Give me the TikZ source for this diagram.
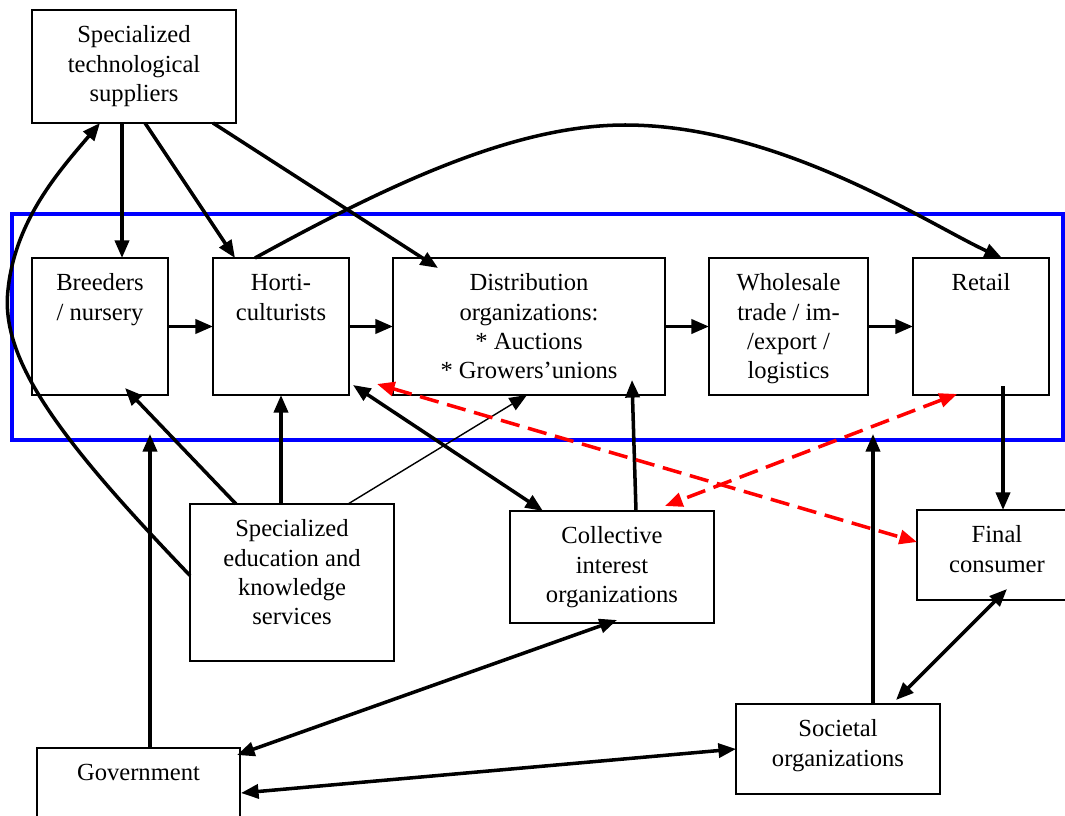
\documentclass[tikz,border=0pt]{standalone}
\usepackage{fontspec}
\setmainfont{Liberation Serif}
\usetikzlibrary{positioning,calc,arrows.meta}
\newlength{\pxu}\setlength{\pxu}{0.02cm}
\newcommand{\boxtext}[3]{\parbox[c][#2\pxu][t]{#1\pxu}{\centering\vspace*{7pt}\strut #3\par}}

\begin{document}
\begin{tikzpicture}[x=0.02cm, y=-0.02cm,
    box/.style={draw, line width=0.8pt, inner sep=0pt, outer sep=0pt, font=\fontsize{14}{16.7}\selectfont},
    link/.style={line width=2pt, -{Triangle[length=10pt,width=8pt]}},
    both/.style={line width=2pt, {Triangle[length=10pt,width=8pt]}-{Triangle[length=10pt,width=8pt]}},
    thinlink/.style={line width=0.8pt, -{Triangle[length=10pt,width=8pt]}},
    redlink/.style={red, line width=2pt, dash pattern=on 11pt off 5pt, {Triangle[length=10pt,width=8pt]}-{Triangle[length=10pt,width=8pt]}}]
    \useasboundingbox (0,0) rectangle (1065,815);
    \clip (0,0) rectangle (1065,815);

    % Chain frame
    \node[draw=blue, line width=2.4pt, inner sep=0pt, outer sep=0pt, minimum width=1051\pxu, minimum height=226\pxu] (core) at (537.5,327) {};

    % Actors
    \node[box] (tech) at (134,66.5) {\boxtext{204}{113}{Specialized\\technological\\suppliers}};
    \node[box] (br) at (100,326.5) {\boxtext{136}{137}{Breeders\\/ nursery}};
    \node[box] (ho) at (281,326.5) {\boxtext{136}{137}{Horti-\\culturists}};
    \node[box] (di) at (529,326.5) {\boxtext{272}{137}{Distribution\\organizations:\\{*} Auctions\\{*} Growers’unions}};
    \node[box] (wh) at (788.5,326.5) {\boxtext{159}{137}{Wholesale\\trade / im-\\/export /\\logistics}};
    \node[box] (re) at (981,326.5) {\boxtext{136}{137}{Retail}};
    \node[box] (ed) at (292,582.5) {\boxtext{204}{157}{Specialized\\education and\\knowledge\\services}};
    \node[box] (co) at (612,567) {\boxtext{204}{112}{Collective\\interest\\organizations}};
    \node[box] (fc) at (997,555) {\boxtext{160}{90}{Final\\consumer}};
    \node[box] (so) at (838,749) {\boxtext{204}{90}{Societal\\organizations}};
    \node[box] (go) at (138.5,798) {\boxtext{203}{100}{Government}};

    % Suppliers
    \draw[link] ($(tech.south west)+(90,0)$) -- ($(br.north west)+(90,0)$);
    \draw[link] ($(tech.south west)+(113,0)$) -- ($(ho.north west)+(22,0)$);
    \draw[link] ($(tech.south west)+(181,0)$) -- ($(di.north west)+(45,10)$);
    \draw[link] ($(ho.north west)+(42,0)$) .. controls (400,178) and (520,125) .. (625,125)
        .. controls (780,125) and (930,225) .. ($(re.north west)+(89,0)$);

    % Chain
    \draw[link] (br) -- (ho);
    \draw[link] (ho) -- (di);
    \draw[link] (di) -- (wh);
    \draw[link] (wh) -- (re);
    \draw[link] ($(re.south west)+(90,-9)$) -- ($(fc.north west)+(86,0)$);

    % Education
    \draw[link] ($(ed.north west)+(46,0)$) -- ($(br.south west)+(93,-7)$);
    \draw[link] ($(ed.north west)+(91,0)$) -- (ho.south);
    \draw[thinlink] ($(ed.north west)+(158,0)$) -- ($(di.south west)+(134,0)$);
    \draw[link] ($(ed.west)+(0,-7)$) .. controls (60,440) and (0,360) .. (8,290)
        .. controls (15,220) and (60,170) .. ($(tech.south west)+(68,0)$);

    % Collective interests
    \draw[both] ($(ho.south east)+(4,-10)$) -- ($(co.north west)+(33,0)$);
    \draw[link] ($(co.north west)+(126,0)$) -- ($(di.south west)+(239,-15)$);
    \draw[redlink] ($(ho.south east)+(28,-11)$) -- ($(fc.north west)+(0,32)$);
    \draw[redlink] ($(re.south west)+(44,-1)$) -- ($(co.north east)+(-49,-5)$);

    % Government and society
    \draw[link] ($(go.north west)+(113,0)$) -- ($(core.south west)+(138,-6)$);
    \draw[link] ($(so.north west)+(137,0)$) -- ($(core.south west)+(861,-6)$);
    \draw[both] ($(fc.south west)+(90,-11)$) -- ($(so.north west)+(160,-4)$);
    \draw[both] ($(go.north east)+(-3,7)$) -- ($(co.south west)+(107,-3)$);
    \draw[both] ($(go.north east)+(1,45)$) -- (so.west);
\end{tikzpicture}
\end{document}
